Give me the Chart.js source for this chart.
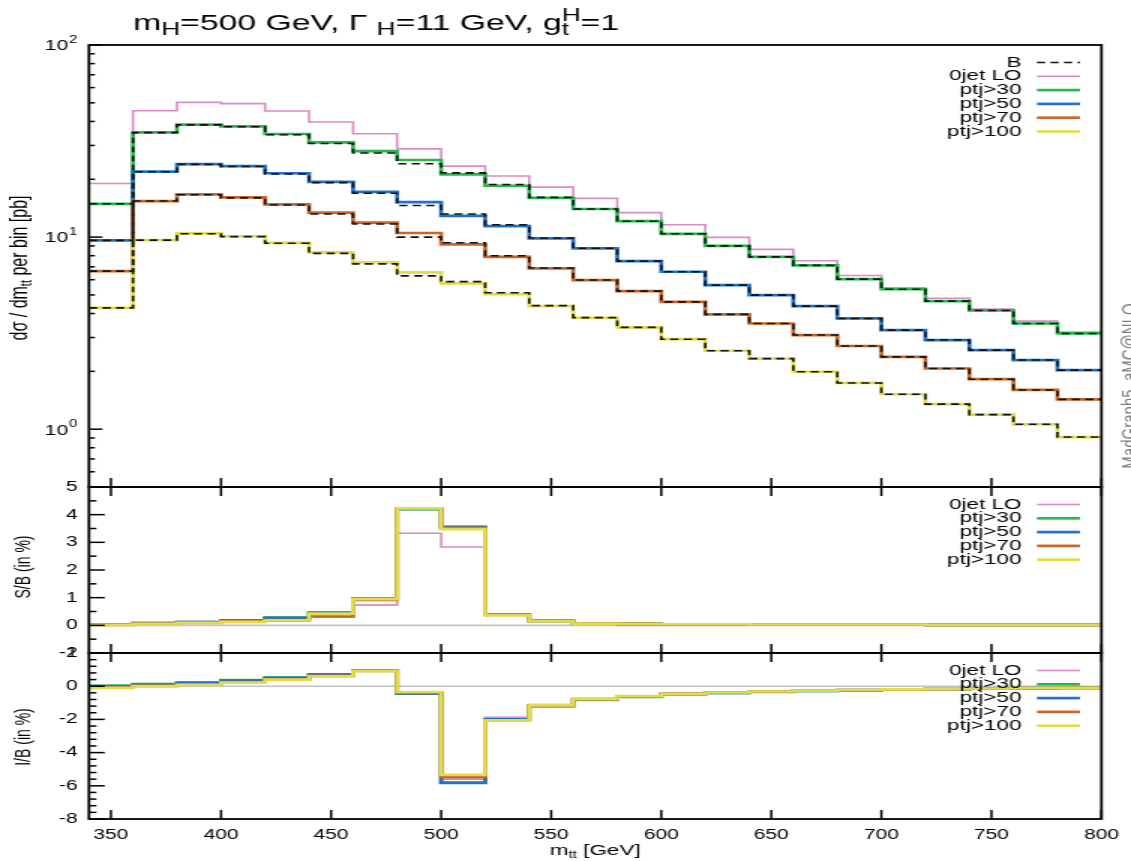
<!DOCTYPE html>
<html>
<head>
<meta charset="utf-8">
<script src="https://cdn.jsdelivr.net/npm/chart.js@4.4.1/dist/chart.umd.min.js"></script>
<style>
  html, body { margin: 0; padding: 0; background: #fff; overflow: hidden; }
  /* the figure is drawn narrow and stretched sideways like the gnuplot output */
  #wrap { width: 754px; height: 861px; transform: scaleX(1.5); transform-origin: 0 0; }
</style>
</head>
<body>
<div id="wrap"><canvas id="chart"></canvas></div>
<script>
const FONT = "'Liberation Sans', Arial, Helvetica, sans-serif";

// bin edges of m_tt [GeV]
const edges = [340, 360, 380, 400, 420, 440, 460, 480, 500, 520, 540, 560, 580,
               600, 620, 640, 660, 680, 700, 720, 740, 760, 780, 800];
const xTicks = [350, 400, 450, 500, 550, 600, 650, 700, 750, 800];
const logTicks = [0.5, 0.6, 0.7, 0.8, 0.9, 1, 2, 3, 4, 5, 6, 7, 8, 9,
                  10, 20, 30, 40, 50, 60, 70, 80, 90, 100];
const logLabels = [1, 10, 100];

// dsigma/dm_tt per bin [pb], total
const lo0j   = [19.0, 45.5, 50.3, 49.5, 45.3, 39.7, 34.5, 28.8, 23.4, 20.8, 18.2, 15.9,
                13.4, 11.6, 9.96, 8.63, 7.53, 6.31, 5.45, 4.80, 4.22, 3.65, 3.20];
const ptj30  = [14.9, 35.1, 38.5, 37.7, 34.4, 31.1, 28.0, 25.2, 21.2, 18.5, 16.0, 14.0,
                12.1, 10.4, 9.00, 7.89, 7.12, 6.04, 5.35, 4.64, 4.15, 3.55, 3.15];
const ptj50  = [9.61, 21.9, 24.0, 23.4, 21.5, 19.4, 17.2, 15.2, 12.9, 11.4, 9.84, 8.73,
                7.50, 6.60, 5.62, 4.99, 4.37, 3.77, 3.28, 2.91, 2.58, 2.29, 2.03];
const ptj70  = [6.65, 15.4, 16.7, 16.1, 14.8, 13.4, 11.9, 10.5, 9.16, 7.89, 6.87, 5.97,
                5.23, 4.60, 3.96, 3.55, 3.09, 2.71, 2.38, 2.07, 1.82, 1.60, 1.43];
const ptj100 = [4.28, 9.65, 10.45, 10.1, 9.34, 8.33, 7.38, 6.55, 5.74, 5.05, 4.37, 3.80,
                3.39, 2.94, 2.56, 2.33, 1.99, 1.74, 1.52, 1.35, 1.19, 1.06, 0.91];

// background only (B) for each jet cut
const bkg30  = [14.9, 35.0, 38.4, 37.5, 34.1, 30.7, 27.4, 24.1, 21.6, 18.8, 16.1, 14.0,
                12.1, 10.4, 9.00, 7.89, 7.12, 6.04, 5.35, 4.64, 4.15, 3.55, 3.15];
const bkg50  = [9.61, 21.9, 23.9, 23.3, 21.3, 19.2, 16.9, 14.6, 13.2, 11.6, 9.90, 8.75,
                7.50, 6.60, 5.62, 4.99, 4.37, 3.77, 3.28, 2.91, 2.58, 2.29, 2.03];
const bkg70  = [6.65, 15.4, 16.6, 16.0, 14.7, 13.2, 11.7, 10.0, 9.35, 8.00, 6.90, 5.98,
                5.23, 4.60, 3.96, 3.55, 3.09, 2.71, 2.38, 2.07, 1.82, 1.60, 1.43];
const bkg100 = [4.28, 9.64, 10.4, 10.05, 9.28, 8.23, 7.25, 6.28, 5.86, 5.13, 4.40, 3.81,
                3.39, 2.94, 2.56, 2.33, 1.99, 1.74, 1.52, 1.35, 1.19, 1.06, 0.91];

// S/B in %
const sbLO  = [0.02, 0.05, 0.07, 0.10, 0.15, 0.30, 0.73, 3.33, 2.83, 0.40, 0.16, 0.07,
               0.05, 0.04, 0.03, 0.03, 0.03, 0.02, 0.02, 0.02, 0.02, 0.02, 0.02];
const sb30  = [0.03, 0.08, 0.12, 0.18, 0.28, 0.46, 0.97, 4.20, 3.55, 0.39, 0.16, 0.06,
               0.05, 0.04, 0.04, 0.03, 0.03, 0.03, 0.03, 0.02, 0.02, 0.02, 0.02];
const sb50  = [0.03, 0.08, 0.12, 0.17, 0.27, 0.45, 0.96, 4.21, 3.56, 0.39, 0.16, 0.06,
               0.05, 0.04, 0.04, 0.03, 0.03, 0.03, 0.03, 0.02, 0.02, 0.02, 0.02];
const sb70  = [0.02, 0.06, 0.10, 0.14, 0.19, 0.32, 0.92, 4.22, 3.52, 0.38, 0.16, 0.06,
               0.05, 0.04, 0.04, 0.03, 0.03, 0.03, 0.03, 0.02, 0.02, 0.02, 0.02];
const sb100 = [0.02, 0.05, 0.09, 0.13, 0.18, 0.42, 0.95, 4.23, 3.48, 0.37, 0.15, 0.06,
               0.05, 0.04, 0.04, 0.03, 0.03, 0.03, 0.03, 0.02, 0.02, 0.02, 0.02];

// I/B in %
const ibLO  = [0.00, 0.10, 0.18, 0.30, 0.45, 0.65, 0.90, -0.35, -5.60, -1.88, -1.10, -0.75,
               -0.60, -0.45, -0.38, -0.32, -0.28, -0.24, -0.20, -0.17, -0.14, -0.12, -0.10];
const ib30  = [0.02, 0.12, 0.22, 0.36, 0.52, 0.72, 0.96, -0.45, -5.80, -2.00, -1.20, -0.82,
               -0.64, -0.48, -0.40, -0.34, -0.29, -0.25, -0.21, -0.18, -0.15, -0.13, -0.10];
const ib50  = [0.00, 0.10, 0.20, 0.34, 0.50, 0.70, 0.95, -0.45, -5.82, -2.00, -1.18, -0.80,
               -0.63, -0.47, -0.40, -0.33, -0.28, -0.24, -0.20, -0.17, -0.15, -0.12, -0.10];
const ib70  = [-0.08, 0.02, 0.10, 0.24, 0.42, 0.62, 0.92, -0.40, -5.48, -2.05, -1.15, -0.78,
               -0.62, -0.46, -0.38, -0.32, -0.27, -0.23, -0.20, -0.17, -0.14, -0.12, -0.10];
const ib100 = [-0.10, 0.00, 0.08, 0.22, 0.40, 0.60, 0.92, -0.35, -5.34, -2.05, -1.15, -0.78,
               -0.60, -0.46, -0.38, -0.32, -0.27, -0.23, -0.19, -0.16, -0.14, -0.12, -0.10];

const names  = ['0jet LO', 'ptj>30', 'ptj>50', 'ptj>70', 'ptj>100'];
const colors = ['#d98bc4', '#27b84a', '#2272c9', '#c9662a', '#e3dc4a'];
const widths = [1.6, 2.7, 2.7, 2.7, 2.7];

const totals = [lo0j, ptj30, ptj50, ptj70, ptj100];
const bkgs   = [bkg30, bkg50, bkg70, bkg100];
const sbs    = [sbLO, sb30, sb50, sb70, sb100];
const ibs    = [ibLO, ib30, ib50, ib70, ib100];

// histogram steps: one point per left edge plus the closing right edge
const hist = vals => edges.map((x, i) => ({ x, y: vals[Math.min(i, vals.length - 1)] }));

const line = (vals, axis, k) => ({
  label: names[k],
  data: hist(vals),
  yAxisID: axis,
  borderColor: colors[k],
  borderWidth: widths[k],
  stepped: true,
  pointRadius: 0,
  order: 10 - k
});

const datasets = [];
totals.forEach((v, k) => datasets.push(line(v, 'yTop', k)));
bkgs.forEach(v => datasets.push({
  label: 'B', data: hist(v), yAxisID: 'yTop', borderColor: '#111', borderWidth: 1.6,
  borderDash: [5.5, 3.5], stepped: true, pointRadius: 0, order: 0
}));
sbs.forEach((v, k) => datasets.push(line(v, 'yMid', k)));
ibs.forEach((v, k) => datasets.push(line(v, 'yBot', k)));

const range = (a, b, s) => { const r = []; for (let v = a; v <= b + 1e-9; v += s) r.push(+v.toFixed(2)); return r; };
const midTicks = range(-1, 5, 0.5);
const botTicks = range(-8, 2, 0.4);

const tickFont = { family: FONT, size: 14 };
const yAxis = (extra) => Object.assign({
  position: 'left', stack: 'panels',
  grid: { display: false, drawTicks: false }, border: { display: false },
  ticks: { font: tickFont, color: '#000', padding: 7.5, autoSkip: false },
  afterFit: s => { s.width = 59.3; }
}, extra);

// text with sub/superscripts: parts = [text, size, dy, keepX]
function rich(ctx, parts, x, y, align) {
  let w = 0;
  parts.forEach(p => { ctx.font = p[1] + 'px ' + FONT; if (!p[3]) w += ctx.measureText(p[0]).width; });
  let cx = align === 'center' ? x - w / 2 : x;
  ctx.textAlign = 'left';
  parts.forEach(p => {
    ctx.font = p[1] + 'px ' + FONT;
    ctx.fillText(p[0], cx, y + (p[2] || 0));
    if (!p[3]) cx += ctx.measureText(p[0]).width;
  });
}

const decor = {
  id: 'decor',
  beforeDatasetsDraw(chart) {
    const { ctx, chartArea: a, scales } = chart;
    ctx.save();
    ctx.strokeStyle = '#c4c4c4';
    ctx.lineWidth = 1.6;
    ['yMid', 'yBot'].forEach(id => {
      const y = scales[id].getPixelForValue(0);
      ctx.beginPath(); ctx.moveTo(a.left, y); ctx.lineTo(a.right, y); ctx.stroke();
    });
    ctx.restore();
  },
  afterDatasetsDraw(chart) {
    const { ctx, chartArea: a, scales } = chart;
    const x = scales.x;
    ctx.save();
    ctx.strokeStyle = '#000';
    ctx.fillStyle = '#000';
    ctx.lineWidth = 1.8;

    // panel frames
    ['yTop', 'yMid', 'yBot'].forEach(id => {
      const s = scales[id];
      ctx.strokeRect(a.left, s.top, a.right - a.left, s.bottom - s.top);
    });

    // inward tick marks
    ctx.lineWidth = 1.5;
    const yTicks = (s, isMajor, big, small) => s.ticks.forEach(t => {
      const py = s.getPixelForValue(t.value);
      const len = isMajor(t.value) ? big : small;
      ctx.beginPath(); ctx.moveTo(a.left, py); ctx.lineTo(a.left + len, py); ctx.stroke();
    });
    yTicks(scales.yTop, v => logLabels.includes(v), 9, 4);
    yTicks(scales.yMid, v => Number.isInteger(v), 10.5, 5);
    yTicks(scales.yBot, v => Number.isInteger(v) && v % 2 === 0, 10.5, 5);
    const xMarks = (yy, dir) => x.ticks.forEach(t => {
      const px = x.getPixelForValue(t.value);
      ctx.beginPath(); ctx.moveTo(px, yy); ctx.lineTo(px, yy + dir * 9); ctx.stroke();
    });
    xMarks(scales.yTop.bottom, -1);
    xMarks(scales.yMid.top, 1);
    xMarks(scales.yMid.bottom, -1);
    xMarks(scales.yBot.top, 1);
    xMarks(scales.yBot.bottom, -1);

    // 10^n labels of the log axis
    const st = scales.yTop;
    logLabels.forEach(v => {
      const py = st.getPixelForValue(v);
      const n = String(Math.round(Math.log10(v)));
      ctx.font = '10px ' + FONT;
      const sw = ctx.measureText(n).width;
      ctx.textBaseline = 'middle';
      ctx.textAlign = 'right';
      ctx.fillText(n, 51.5, py - 5);
      ctx.font = '14px ' + FONT;
      ctx.fillText('10', 51.5 - sw - 0.5, py + 1.5);
    });

    // title
    ctx.textBaseline = 'alphabetic';
    const F = 22.5, S = 17.5;
    rich(ctx, [['m', F], ['H', S, 5], ['=500 GeV, \u0393 ', F], ['H', S, 5], ['=11 GeV, g', F],
               ['t', S, 5, true], ['H', S, -9], ['=1', F]], 88.7, 30, 'left');

    // axis titles
    const vtext = (parts, cx, cy) => {
      ctx.save();
      ctx.translate(cx, cy);
      ctx.rotate(-Math.PI / 2);
      ctx.textBaseline = 'middle';
      rich(ctx, parts, 0, 0, 'center');
      ctx.restore();
    };
    vtext([['d\u03c3 / dm', 16], ['tt', 11, 4], [' per bin [pb]', 16]], 14, 268);
    vtext([['S/B (in %)', 14]], 16, (scales.yMid.top + scales.yMid.bottom) / 2 - 3);
    vtext([['I/B (in %)', 14]], 16, (scales.yBot.top + scales.yBot.bottom) / 2 + 1);
    ctx.textBaseline = 'alphabetic';
    rich(ctx, [['m', 15], ['tt', 10, 3], [' [GeV]', 15]], (a.left + a.right) / 2, 855, 'center');

    // program tag on the right edge
    ctx.save();
    ctx.fillStyle = '#808080';
    ctx.translate(758, (st.top + scales.yMid.top) / 2 + 120);
    ctx.rotate(-Math.PI / 2);
    ctx.font = '15px ' + FONT;
    ctx.textAlign = 'center';
    ctx.textBaseline = 'alphabetic';
    ctx.fillText('MadGraph5_aMC@NLO', 0, 0);
    ctx.restore();

    // keys, one block per panel
    const key = (s, entries) => {
      entries.forEach((e, i) => {
        const py = s.top + 17.5 + i * 13.8;
        ctx.font = '15px ' + FONT;
        ctx.textAlign = 'right';
        ctx.textBaseline = 'middle';
        ctx.fillStyle = '#000';
        ctx.fillText(e.label, 681, py);
        ctx.strokeStyle = e.color;
        ctx.lineWidth = e.width;
        ctx.setLineDash(e.dash || []);
        ctx.beginPath(); ctx.moveTo(691.3, py); ctx.lineTo(720, py); ctx.stroke();
        ctx.setLineDash([]);
      });
    };
    const entries = names.map((n, k) => ({ label: n, color: colors[k], width: widths[k] }));
    key(st, [{ label: 'B', color: '#111', width: 1.6, dash: [5.5, 3.5] }].concat(entries));
    key(scales.yMid, entries);
    key(scales.yBot, entries);

    ctx.restore();
  }
};

new Chart(document.getElementById('chart'), {
  type: 'line',
  data: { datasets },
  plugins: [decor],
  options: {
    responsive: true,
    maintainAspectRatio: false,
    animation: false,
    layout: { padding: { top: 45, right: 16, left: 0, bottom: 0 } },
    plugins: { legend: { display: false }, tooltip: { enabled: false } },
    elements: { line: { tension: 0 } },
    scales: {
      x: {
        type: 'linear', min: 340, max: 800,
        grid: { display: false, drawTicks: false }, border: { display: false },
        afterBuildTicks: s => { s.ticks = xTicks.map(v => ({ value: v })); },
        ticks: { font: tickFont, color: '#000', padding: 8, autoSkip: false, maxRotation: 0 },
        afterFit: s => { s.height = 42; }
      },
      yTop: yAxis({
        type: 'logarithmic', min: 0.5, max: 100, stackWeight: 442, weight: 3,
        afterBuildTicks: s => { s.ticks = logTicks.map(v => ({ value: v })); },
        ticks: { font: tickFont, color: '#000', padding: 7.5, autoSkip: false, callback: () => '' }
      }),
      yMid: yAxis({
        type: 'linear', min: -1, max: 5, stackWeight: 166, weight: 2,
        afterBuildTicks: s => { s.ticks = midTicks.map(v => ({ value: v })); },
        ticks: { font: tickFont, color: '#000', padding: 7.5, autoSkip: false,
                 callback: v => Number.isInteger(v) ? String(v) : '' }
      }),
      yBot: yAxis({
        type: 'linear', min: -8, max: 2, stackWeight: 166, weight: 1,
        afterBuildTicks: s => { s.ticks = botTicks.map(v => ({ value: v })); },
        ticks: { font: tickFont, color: '#000', padding: 7.5, autoSkip: false,
                 callback: v => (Number.isInteger(v) && v % 2 === 0) ? String(v) : '' }
      })
    }
  }
});
</script>
</body>
</html>
